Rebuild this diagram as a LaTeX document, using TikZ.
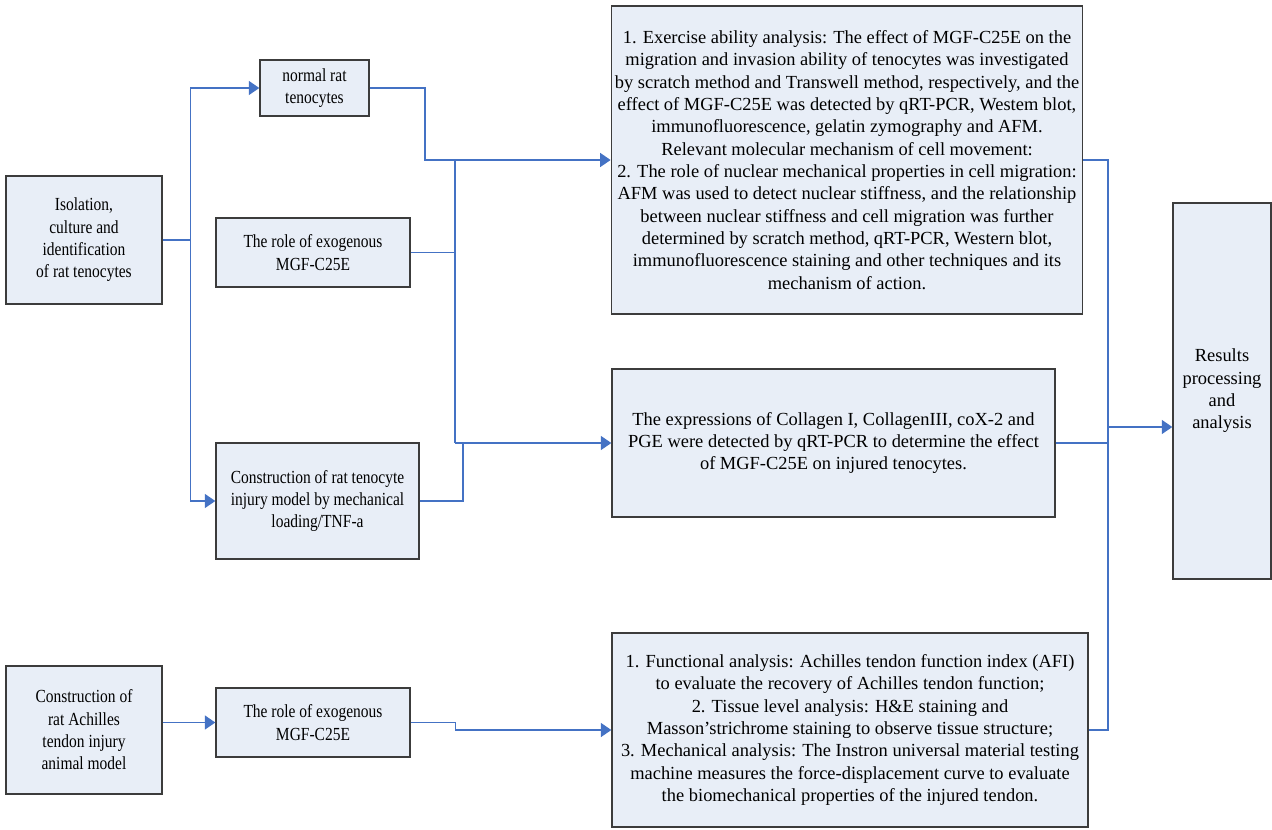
\documentclass[tikz,border=0pt]{standalone}
\usepackage{fontspec}
\setmainfont{Liberation Serif}
\newfontfamily\narrowserif[FakeStretch=0.84]{Liberation Serif}
\usetikzlibrary{positioning}
\usetikzlibrary{arrows.meta}
\usetikzlibrary{calc}
\definecolor{linkblue}{RGB}{68,114,196}
\definecolor{boxfill}{RGB}{232,238,247}
\definecolor{boxline}{RGB}{60,60,60}

\begin{document}
\begin{tikzpicture}[x=0.02cm,y=-0.02cm,
    box/.style={draw=boxline,fill=boxfill,line width=0.8pt,align=center,inner sep=2pt,
        font=\fontsize{10.5}{12.7}\selectfont},
    narrowbox/.style={box,font=\narrowserif\fontsize{10.5}{12.7}\selectfont},
    link/.style={linkblue,line width=0.85pt},
    arrow/.style={link,-{Triangle[length=6pt,width=8pt]}}]
\useasboundingbox (0,0) rectangle (1272,829);

    % left column
    \node[narrowbox,minimum width=3.12cm,minimum height=2.56cm] (iso) at (84,240) {Isolation,\\culture and\\identification\\of rat tenocytes};
    \node[narrowbox,minimum width=3.12cm,minimum height=2.56cm] (achil) at (84,730) {Construction of\\rat Achilles\\tendon injury\\animal model};

    % middle column
    \node[narrowbox,minimum width=2.18cm,minimum height=1.12cm] (normal) at (314.5,88) {normal rat\\tenocytes};
    \node[narrowbox,minimum width=3.88cm,minimum height=1.38cm] (role1) at (313,252.5) {The role of exogenous\\MGF-C25E};
    \node[narrowbox,minimum width=4.06cm,minimum height=2.32cm] (injury) at (317.5,501) {Construction of rat tenocyte\\injury model by mechanical\\loading/TNF-a};
    \node[narrowbox,minimum width=3.88cm,minimum height=1.38cm] (role2) at (313,722.5) {The role of exogenous\\MGF-C25E};

    % analysis boxes
    \node[box,minimum width=9.4cm,minimum height=6.16cm] (exer) at (847,160) {1. Exercise ability analysis: The effect of MGF-C25E on the\\
migration and invasion ability of tenocytes was investigated\\
by scratch method and Transwell method, respectively, and the\\
effect of MGF-C25E was detected by qRT-PCR, Westem blot,\\
immunofluorescence, gelatin zymography and AFM.\\
Relevant molecular mechanism of cell movement:\\
2. The role of nuclear mechanical properties in cell migration:\\
AFM was used to detect nuclear stiffness, and the relationship\\
between nuclear stiffness and cell migration was further\\
determined by scratch method, qRT-PCR, Western blot,\\
immunofluorescence staining and other techniques and its\\
mechanism of action.};
    \node[box,minimum width=8.86cm,minimum height=2.96cm] (expr) at (833.5,443) {The expressions of Collagen I, CollagenIII, coX-2 and\\
PGE were detected by qRT-PCR to determine the effect\\
of MGF-C25E on injured tenocytes.};
    \node[box,minimum width=9.52cm,minimum height=3.88cm] (func) at (850,730) {1. Functional analysis: Achilles tendon function index (AFI)\\
to evaluate the recovery of Achilles tendon function;\\
2. Tissue level analysis: H\&E staining and\\
Masson'strichrome staining to observe tissue structure;\\
3. Mechanical analysis: The Instron universal material testing\\
machine measures the force-displacement curve to evaluate\\
the biomechanical properties of the injured tendon.};
    \node[box,minimum width=1.96cm,minimum height=7.52cm] (results) at (1222,391) {Results\\processing\\and\\analysis};

    % bend points
    \coordinate (nbend) at (425,160);
    \coordinate (busA) at (455,160);
    \coordinate (busB) at (455,443);
    \coordinate (ibend) at (463,443);
    \coordinate (rtop) at (1108,160);
    \coordinate (rbot) at (1108,730);
    \coordinate (rmid) at (1108,427);

    % connectors left -> middle
    \draw[arrow] (iso.east) -- ++(28,0) |- (normal.west);
    \draw[arrow] (iso.east) -- ++(28,0) |- (injury.west);
    \draw[arrow] (achil.east |- role2.west) -- (role2.west);

    % connectors middle -> analysis
    \draw[arrow] (normal.east) -| (nbend) -- (exer.west);
    \draw[link] (busA) -- (busB);
    \draw[link] (role1.east) -- (role1.east -| busA);
    \draw[arrow] (busB) -- (expr.west);
    \draw[link] (injury.east) -| (ibend);
    \draw[arrow] (role2.east) -- ++(45,0) |- (func.west);

    % connectors analysis -> results
    \draw[link] (exer.east) -- (rtop) -- (rbot) -- (func.east);
    \draw[link] (expr.east) -- (expr.east -| rtop);
    \draw[arrow] (rmid) -- (rmid -| results.west);
\end{tikzpicture}
\end{document}
